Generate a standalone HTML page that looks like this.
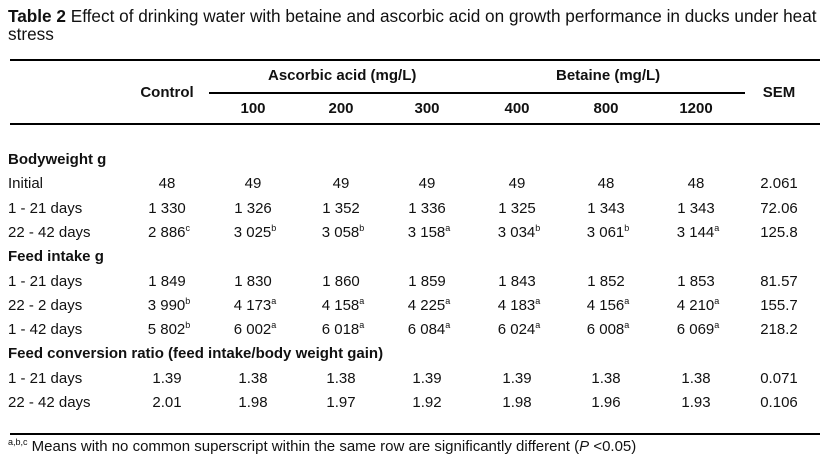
<!DOCTYPE html>
<html><head><meta charset="utf-8"><style>
body{margin:0;background:#fff;}
#t{position:relative;width:830px;height:461px;font-family:"Liberation Sans",Arial,sans-serif;color:#111;font-size:15px;overflow:hidden;}
.a{position:absolute;white-space:nowrap;line-height:18px;}
.c{width:100px;text-align:center;}
.b{font-weight:bold;}
.r{position:absolute;background:#000;}
sup{font-size:9px;line-height:0;vertical-align:6px;}
</style></head><body>
<div id="t">
<div class="a" style="left:8px;top:7px;font-size:17.2px;"><b>Table 2</b> Effect of drinking water with betaine and ascorbic acid on growth performance in ducks under heat</div>
<div class="a" style="left:8px;top:25px;font-size:17.2px;">stress</div>
<div class="r" style="left:10px;top:59px;width:810px;height:2px;"></div>
<div class="r" style="left:209px;top:92px;width:536px;height:2px;"></div>
<div class="r" style="left:10px;top:123px;width:810px;height:2px;"></div>
<div class="r" style="left:10px;top:433px;width:810px;height:2px;"></div>
<div class="a b c" style="left:117px;top:84px;">Control</div>
<div class="a b" style="left:268px;top:67px;">Ascorbic acid (mg/L)</div>
<div class="a b" style="left:556px;top:67px;">Betaine (mg/L)</div>
<div class="a b c" style="left:729px;top:84px;">SEM</div>
<div id="body"></div>
<div class="a" style="left:8px;top:438px;"><sup>a,b,c</sup> Means with no common superscript within the same row are significantly different (<i>P</i> &lt;0.05)</div>
</div>
<script>
const doses=["100","200","300","400","800","1200"];
const cols=[253,341,427,517,606,696];
const valCols=[167,253,341,427,517,606,696,779];
const sections=[["Bodyweight g",151],["Feed intake g",248],["Feed conversion ratio (feed intake/body weight gain)",345]];
const rowLabels=["Initial","1 - 21 days","22 - 42 days","1 - 21 days","22 - 2 days","1 - 42 days","1 - 21 days","22 - 42 days"];
const rowTops=[175,200,224,273,297,321,370,394];
const rowValues=[
["48","49","49","49","49","48","48","2.061"],
["1 330","1 326","1 352","1 336","1 325","1 343","1 343","72.06"],
["2 886^c","3 025^b","3 058^b","3 158^a","3 034^b","3 061^b","3 144^a","125.8"],
["1 849","1 830","1 860","1 859","1 843","1 852","1 853","81.57"],
["3 990^b","4 173^a","4 158^a","4 225^a","4 183^a","4 156^a","4 210^a","155.7"],
["5 802^b","6 002^a","6 018^a","6 084^a","6 024^a","6 008^a","6 069^a","218.2"],
["1.39","1.38","1.38","1.39","1.39","1.38","1.38","0.071"],
["2.01","1.98","1.97","1.92","1.98","1.96","1.93","0.106"]];
const root=document.getElementById('t');
function mk(cls,left,top,html){const d=document.createElement('div');d.className=cls;d.style.left=left+'px';d.style.top=top+'px';d.innerHTML=html;root.appendChild(d);return d;}
doses.forEach((d,i)=>{
 const el=mk('a b c',cols[i]-50,100,d);
 
 
});
sections.forEach(s=>{
 const el=mk('a b',8,s[1],s[0]);
 
 
});
rowLabels.forEach((l,r)=>{
 const el=mk('a',8,rowTops[r],l);
 
 
 rowValues[r].forEach((v,c)=>{
  const p=v.split('^');
  const h=p[0]+(p[1]?'<sup>'+p[1]+'</sup>':'');
  const cell=mk('a c',valCols[c]-50+(p[1]?2:0),rowTops[r],h);
  
  
 });
});
</script>
</body></html>
